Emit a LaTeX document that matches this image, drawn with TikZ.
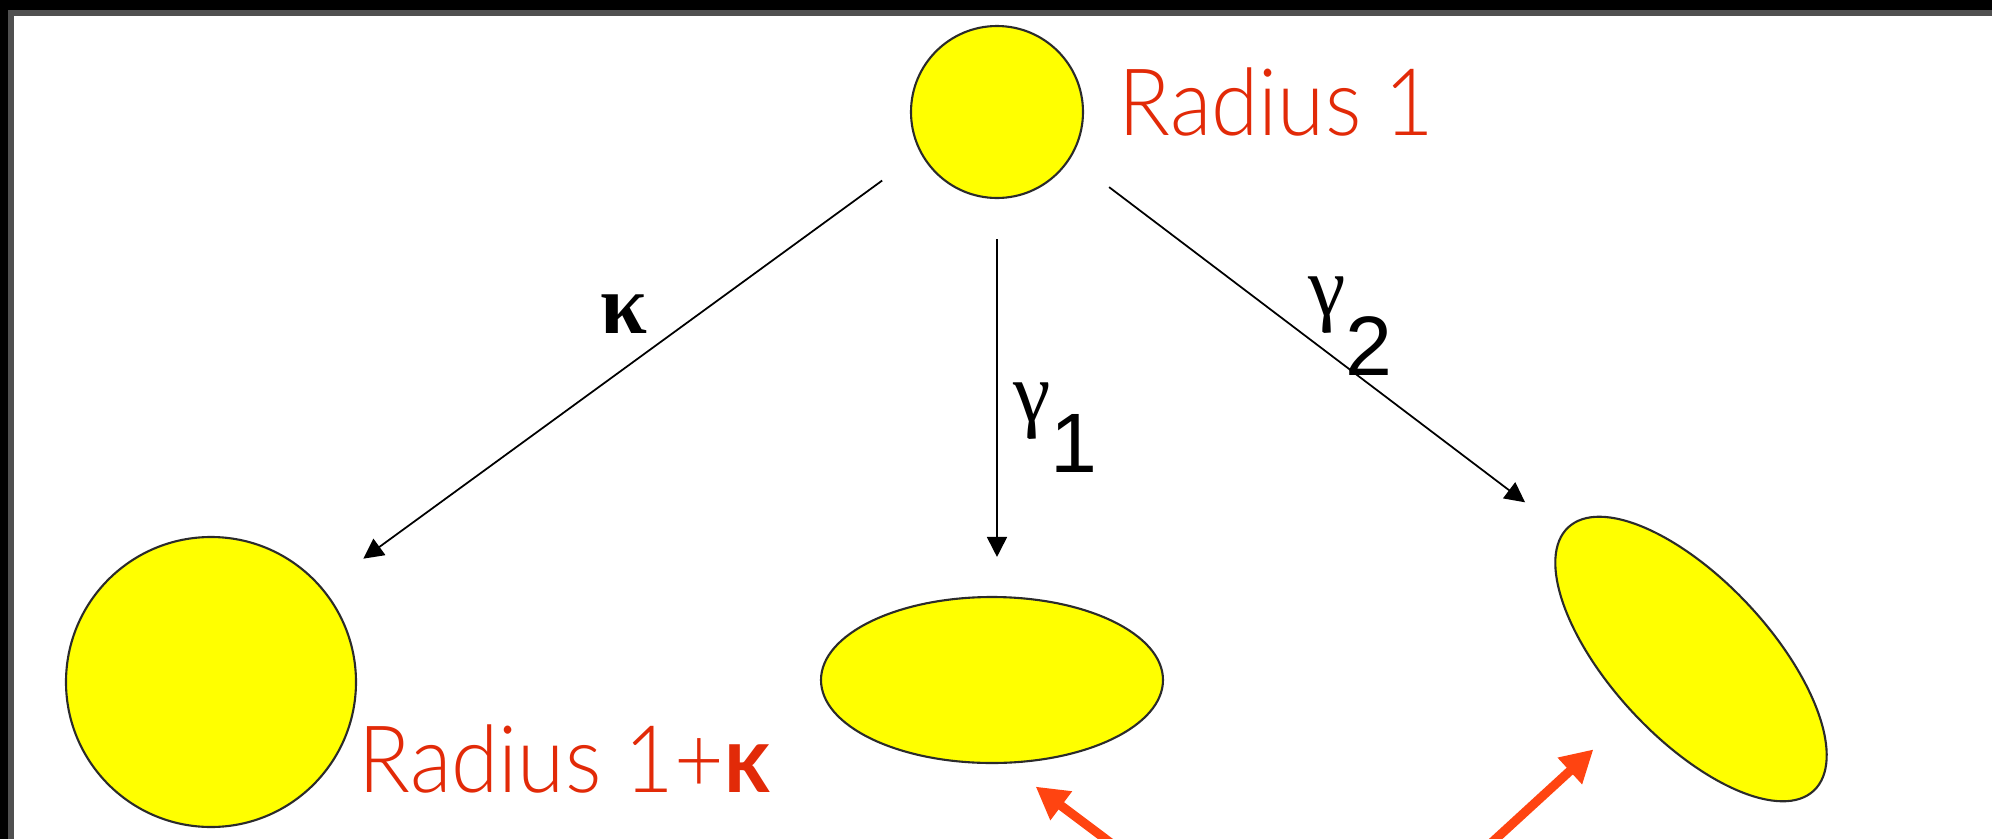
\documentclass[tikz,border=0pt]{standalone}
\usepackage{fontspec}
\usetikzlibrary{arrows.meta,shapes.geometric}
\newfontfamily\gillfont{Lato Light}[FakeStretch=0.92,BoldFont={Lato Bold}]
\newfontfamily\symbfont{Liberation Serif}
\newfontfamily\arialfont{Liberation Sans}
\definecolor{blobyellow}{HTML}{FFFF00}
\definecolor{blobedge}{HTML}{2B2B2B}
\definecolor{labelred}{HTML}{E22A08}
\definecolor{callred}{HTML}{FF4411}
\definecolor{framegray}{HTML}{505050}
\newcommand{\grk}[1]{{\symbfont #1}}
\newcommand{\gsub}[3]{\grk{#1}\raisebox{-#3}{\arialfont #2}}

\begin{document}
\begin{tikzpicture}[x=0.1mm,y=-0.1mm,
    blob/.style={draw=blobedge,line width=0.6pt,fill=blobyellow,inner sep=0pt},
    link/.style={-{Triangle[length=2mm,width=2mm]},line width=0.5pt},
    callout/.style={-{Triangle[length=3.2mm,width=3.4mm]},line width=2.6pt,callred},
    redlabel/.style={labelred,font=\gillfont\fontsize{26.5}{30}\selectfont,inner sep=0pt,anchor=base west},
    greek/.style={font=\fontsize{24}{28}\selectfont,inner sep=0pt,anchor=base west}]
        \useasboundingbox (0,0) rectangle (1992,839);
        \clip (0,0) rectangle (1992,839);
        \fill[white] (0,0) rectangle (1992,839);
        \fill[black] (0,0) rectangle (1992,10);
        \fill[black] (0,0) rectangle (8,839);
        \fill[framegray] (8,10) rectangle (1992,16);
        \fill[framegray] (8,10) rectangle (14,839);
        \node[blob,circle,minimum size=17.2mm] (src) at (997,112) {};
        \node[blob,circle,minimum size=29mm] (kap) at (211,682) {};
        \node[blob,ellipse,minimum width=34.2mm,minimum height=16.6mm] (gone) at (992,680) {};
        \node[blob,ellipse,minimum width=36mm,minimum height=15.8mm,rotate=-47] (gtwo) at (1691,659) {};
        \node[redlabel] (srclab) at (1118,135) {Radius 1};
        \node[redlabel] (kaplab) at (358,792) {Radius 1+\textbf{κ}};
        \draw[link,shorten <=4.7mm,shorten >=5mm] (src.208) -- (kap.40);
        \draw[link,shorten <=4mm,shorten >=3.9mm] (src.south) -- (src.south |- gone.north);
        \draw[link,shorten <=4.8mm,shorten >=4.8mm] (src.-32) -- (gtwo.182);
        \node[greek] (klab) at (600,333) {\bfseries\grk{κ}};
        \node[greek] (g1lab) at (1013,421) {\gsub{γ}{1}{5.1mm}};
        \node[greek] (g2lab) at (1308,315) {\gsub{γ}{2}{6mm}};
        \coordinate (callpt) at (1320,1000);
        \draw[callout,shorten >=3.8mm] (callpt) -- (gone.-81);
        \draw[callout,shorten >=5.3mm] (callpt) -- (gtwo.south);
\end{tikzpicture}
\end{document}
